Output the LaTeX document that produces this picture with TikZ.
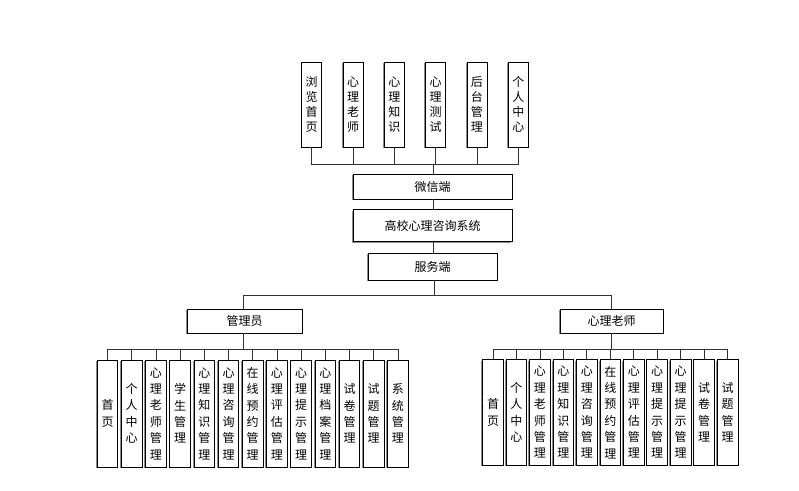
\documentclass[tikz,border=0pt]{standalone}
\usepackage{fontspec}
\newfontfamily\cjk{Noto Sans CJK SC}
\usetikzlibrary{shadows}
\tikzset{
  box/.style={draw=black, line width=0.8pt, fill=white, inner sep=0pt,
    align=center, font=\cjk\fontsize{12}{15}\selectfont,
    general shadow={shadow xshift=-1.2pt, shadow yshift=-1.2pt, fill=black!45}},
  hbox/.style={box},
  topbox/.style={box, minimum width=20pt, minimum height=85pt},
  admbox/.style={box, minimum width=20.5pt, minimum height=107pt, font=\cjk\fontsize{12}{16.4}\selectfont},
  teabox/.style={box, minimum width=20.7pt, minimum height=105.5pt, font=\cjk\fontsize{12}{16.4}\selectfont},
  link/.style={draw=black!80, line width=0.8pt}
}
\begin{document}
\begin{tikzpicture}[x=1pt, y=-1pt]
\useasboundingbox (0,0) rectangle (799,490);

% client modules
\foreach \i/\t in {1/{浏\\览\\首\\页}, 2/{心\\理\\老\\师}, 3/{心\\理\\知\\识},
                   4/{心\\理\\测\\试}, 5/{后\\台\\管\\理}, 6/{个\\人\\中\\心}}
  \node[topbox] (t\i) at ({311.7+41.32*(\i-1)}, 104.5) {\t};

% main chain
\node[hbox, minimum width=159pt, minimum height=25pt] (wx) at (432.5,186.5) {微信端};
\node[hbox, minimum width=159pt, minimum height=32pt] (sys) at (432.5,225.5) {高校心理咨询系统};
\node[hbox, minimum width=129pt, minimum height=27pt] (fw) at (432.5,266.5) {服务端};

% roles
\node[hbox, minimum width=115pt, minimum height=24pt] (adm) at (244.5,321) {管理员};
\node[hbox, minimum width=103.5pt, minimum height=24pt] (tea) at (611.7,321) {心理老师};

% administrator modules
\foreach \i/\t in {1/{首\\页}, 2/{个\\人\\中\\心}, 3/{心\\理\\老\\师\\管\\理},
                   4/{学\\生\\管\\理}, 5/{心\\理\\知\\识\\管\\理}, 6/{心\\理\\咨\\询\\管\\理},
                   7/{在\\线\\预\\约\\管\\理}, 8/{心\\理\\评\\估\\管\\理}, 9/{心\\理\\提\\示\\管\\理},
                   10/{心\\理\\档\\案\\管\\理}, 11/{试\\卷\\管\\理}, 12/{试\\题\\管\\理},
                   13/{系\\统\\管\\理}}
  \node[admbox] (a\i) at ({107.5+24.2*(\i-1)}, 413.5) {\t};

% teacher modules
\foreach \i/\t in {1/{首\\页}, 2/{个\\人\\中\\心}, 3/{心\\理\\老\\师\\管\\理},
                   4/{心\\理\\知\\识\\管\\理}, 5/{心\\理\\咨\\询\\管\\理}, 6/{在\\线\\预\\约\\管\\理},
                   7/{心\\理\\评\\估\\管\\理}, 8/{心\\理\\提\\示\\管\\理}, 9/{心\\理\\提\\示\\管\\理},
                   10/{试\\卷\\管\\理}, 11/{试\\题\\管\\理}}
  \node[teabox] (b\i) at ({493+23.46*(\i-1)}, 412.3) {\t};

% bus junctions
\coordinate (tb) at (433,164);
\coordinate (mb) at (434,295);
\coordinate (ab) at (243.3,349.3);
\coordinate (bb) at (611.7,349.3);

% connectors
\foreach \i in {1,...,6} \draw[link] (t\i.south) |- (tb);
\draw[link] (tb) -- (tb |- wx.north);
\draw[link] (wx.south -| tb) -- (sys.north -| tb);
\draw[link] (sys.south -| tb) -- (fw.north -| tb);
\draw[link] (fw.south -| mb) -- (mb);
\draw[link] (adm.north -| ab) |- (mb);
\draw[link] (tea.north -| bb) |- (mb);
\draw[link] (adm.south -| ab) -- (ab);
\draw[link] (tea.south -| bb) -- (bb);
\foreach \i in {1,...,13} \draw[link] (a\i.north) |- (ab);
\foreach \i in {1,...,11} \draw[link] (b\i.north) |- (bb);
\end{tikzpicture}
\end{document}
